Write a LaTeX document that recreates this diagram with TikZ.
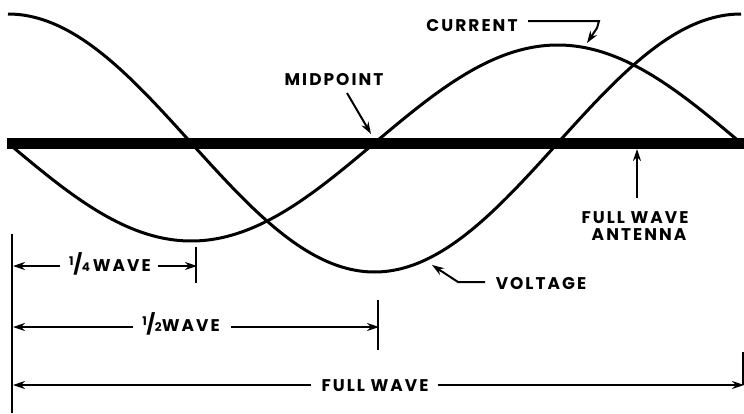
\documentclass[tikz,border=0pt]{standalone}
\usepackage{fontspec}
\newfontfamily\labfont[LetterSpace=12]{Poppins}
\usetikzlibrary{arrows.meta}
\newcommand\myfrac[2]{\raisebox{0.3em}{\fontsize{12}{12}\selectfont #1}\kern-0.02em{\fontsize{20}{20}\selectfont/}\kern-0.03em\raisebox{-0.05em}{\fontsize{12}{12}\selectfont #2}}
\begin{document}
\begin{tikzpicture}[x=1bp,y=-1bp,
  wave/.style={line width=3bp},
  lab/.style={font=\labfont\fontsize{17}{17.5}\selectfont\bfseries, inner sep=0pt, anchor=base},
  tip/.style={-{Stealth[length=12bp,width=8bp]}},
  lead/.style={line width=2bp, tip},
  dim/.style={line width=2bp, tip},
  tickline/.style={line width=2bp}]
\useasboundingbox (0,0) rectangle (744,413);
% antenna
\coordinate (antL) at (7,143);
\coordinate (antR) at (744,143);
\draw[line width=11bp] (antL) -- (antR);
% voltage (cosine) and current (sine)
\draw[wave] plot[domain=8:741, samples=160, smooth] (\x, {143-129*cos((\x-8)/733*360)});
\draw[wave] plot[domain=8:741, samples=160, smooth] (\x, {143+98*sin((\x-8)/733*360)});
% labels
\node[lab] (cur) at (472,31) {CURRENT};
\coordinate (curA) at (528,21);
\coordinate (curB) at (599,21);
\coordinate (curC) at (597,28);
\coordinate (curT) at (587,43);
\draw[lead] (curA) -- (curB) -- (curC) -- (curT);

\node[lab] (mid) at (334,85) {MIDPOINT};
\coordinate (midA) at (347,93);
\coordinate (midT) at (371,134);
\draw[lead] (midA) -- (midT);

\node[lab] (ant1) at (635,223) {FULL WAVE};
\node[lab] (ant2) at (639,240) {ANTENNA};
\coordinate (antA) at (637,198);
\coordinate (antT) at (637,149);
\draw[lead] (antA) -- (antT);

\node[lab] (volt) at (541,289) {VOLTAGE};
\coordinate (voltA) at (485,282);
\coordinate (voltB) at (458,282);
\coordinate (voltT) at (432,265);
\draw[lead] (voltA) -- (voltB) -- (voltT);

% dimension lines
\coordinate (base0) at (12,234);
\coordinate (base1) at (12,413);
\draw[tickline] (base0) -- (base1);

\node[lab] (q) at (110,271) {\myfrac14\,WAVE};
\coordinate (qL) at (13,266);
\coordinate (qR) at (197,266);
\coordinate (qT0) at (196,247);
\coordinate (qT1) at (196,283);
\draw[tickline] (qT0) -- (qT1);
\draw[dim] (q.west |- qL) ++(-9bp,0) -- (qL);
\draw[dim] (q.east |- qR) ++(7bp,0) -- (qR);

\node[lab] (h) at (181,331) {\myfrac12WAVE};
\coordinate (hL) at (13,327);
\coordinate (hR) at (379,327);
\coordinate (hT0) at (378,300);
\coordinate (hT1) at (378,350);
\draw[tickline] (hT0) -- (hT1);
\draw[dim] (h.west |- hL) ++(-9bp,0) -- (hL);
\draw[dim] (h.east |- hR) ++(11bp,0) -- (hR);

\node[lab] (f) at (375,391) {FULL WAVE};
\coordinate (fL) at (13,385);
\coordinate (fR) at (744,385);
\coordinate (fT0) at (743,352);
\coordinate (fT1) at (743,385);
\draw[tickline] (fT0) -- (fT1);
\draw[dim] (f.west |- fL) ++(-10bp,0) -- (fL);
\draw[dim] (f.east |- fR) ++(9bp,0) -- (fR);
\end{tikzpicture}
\end{document}
